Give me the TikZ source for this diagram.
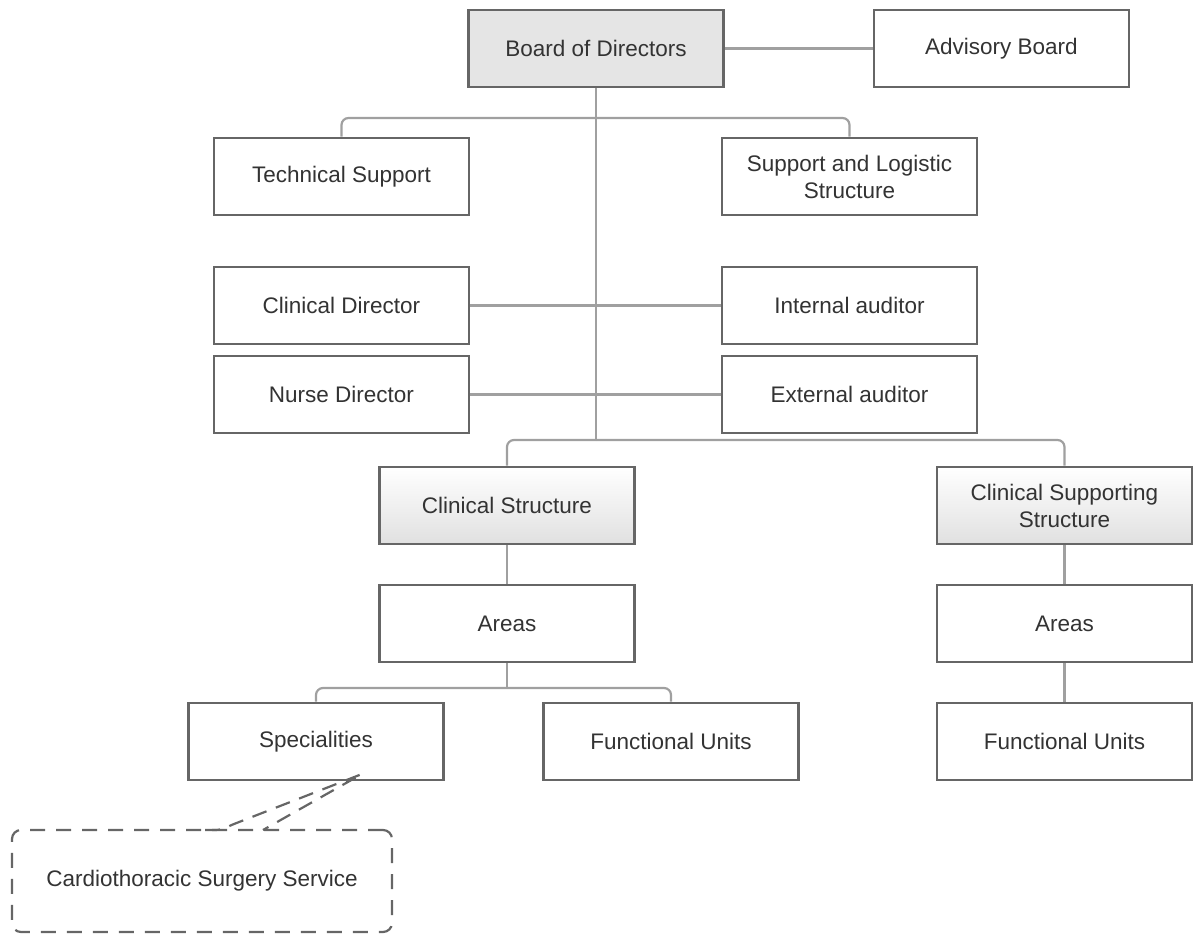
\documentclass[tikz,border=0pt]{standalone}
\usepackage{fontspec}
\setmainfont{Liberation Sans}
\usetikzlibrary{calc}
\definecolor{boxline}{HTML}{666666}
\definecolor{conn}{HTML}{A0A0A0}
\definecolor{txt}{HTML}{333333}
\tikzset{
  orgbox/.style={draw=boxline, line width=2.6pt, fill=white, minimum width=255pt, minimum height=77pt,
    text=txt, align=center, inner sep=2pt, font=\fontsize{22.5}{27}\selectfont},
  graybox/.style={orgbox, fill=black!10},
  gradbox/.style={orgbox, top color=white, bottom color=black!12},
  link/.style={draw=conn, line width=2.2pt, rounded corners=7pt},
  callout/.style={draw=boxline, line width=2.2pt, dash pattern=on 15pt off 11pt, rounded corners=9pt,
    minimum width=380pt, minimum height=102pt, text=txt, font=\fontsize{22.5}{27}\selectfont},
}
\begin{document}
\begin{tikzpicture}[x=1pt,y=-1pt]
\useasboundingbox (0,0) rectangle (1195,934);
\coordinate (j1) at (596,118);
\coordinate (j2) at (596,440);
\coordinate (j3) at (507,688);
\node[graybox] (bod) at (596,48.5) {Board of Directors};
\node[orgbox] (adv) at (1001.5,48.5) {Advisory Board};
\node[orgbox] (ts) at (341.5,176.5) {Technical Support};
\node[orgbox] (sls) at (849.5,176.5) {Support and Logistic\\Structure};
\node[orgbox] (cd) at (341.5,305.5) {Clinical Director};
\node[orgbox] (ia) at (849.5,305.5) {Internal auditor};
\node[orgbox] (nd) at (341.5,394.5) {Nurse Director};
\node[orgbox] (ea) at (849.5,394.5) {External auditor};
\node[gradbox] (cs) at (507,505.5) {Clinical Structure};
\node[gradbox] (css) at (1064.5,505.5) {Clinical Supporting\\Structure};
\node[orgbox] (al) at (507,623.5) {Areas};
\node[orgbox] (ar) at (1064.5,623.5) {Areas};
\node[orgbox] (sp) at (316,741.5) {Specialities};
\node[orgbox] (ful) at (671,741.5) {Functional Units};
\node[orgbox] (fur) at (1064.5,741.5) {Functional Units};
\node[callout] (cts) at (202,881) {Cardiothoracic Surgery Service};
% links
\draw[link] (bod.east) -- (adv.west);
\draw[link] (bod.south) -- (j2);
\draw[link] (j1) -| (ts.north);
\draw[link] (j1) -| (sls.north);
\draw[link] (cd.east) -- (ia.west);
\draw[link] (nd.east) -- (ea.west);
\draw[link] (j2) -| (cs.north);
\draw[link] (j2) -| (css.north);
\draw[link] (cs.south) -- (al.north);
\draw[link] (css.south) -- (ar.north);
\draw[link] (ar.south) -- (fur.north);
\draw[link] (al.south) -- (j3);
\draw[link] (j3) -| (sp.north);
\draw[link] (j3) -| (ful.north);
% callout wedge
\coordinate (tip) at (362,774);
\coordinate (wa) at (205,830);
\coordinate (wb) at (263,830);
\draw[draw=boxline, line width=2.2pt, dash pattern=on 15pt off 10pt] (wa) -- (215,830) to[out=0,in=200] ($(wa)!0.12!(tip)+(12,0)$) -- (tip) -- (wb);
\end{tikzpicture}
\end{document}
